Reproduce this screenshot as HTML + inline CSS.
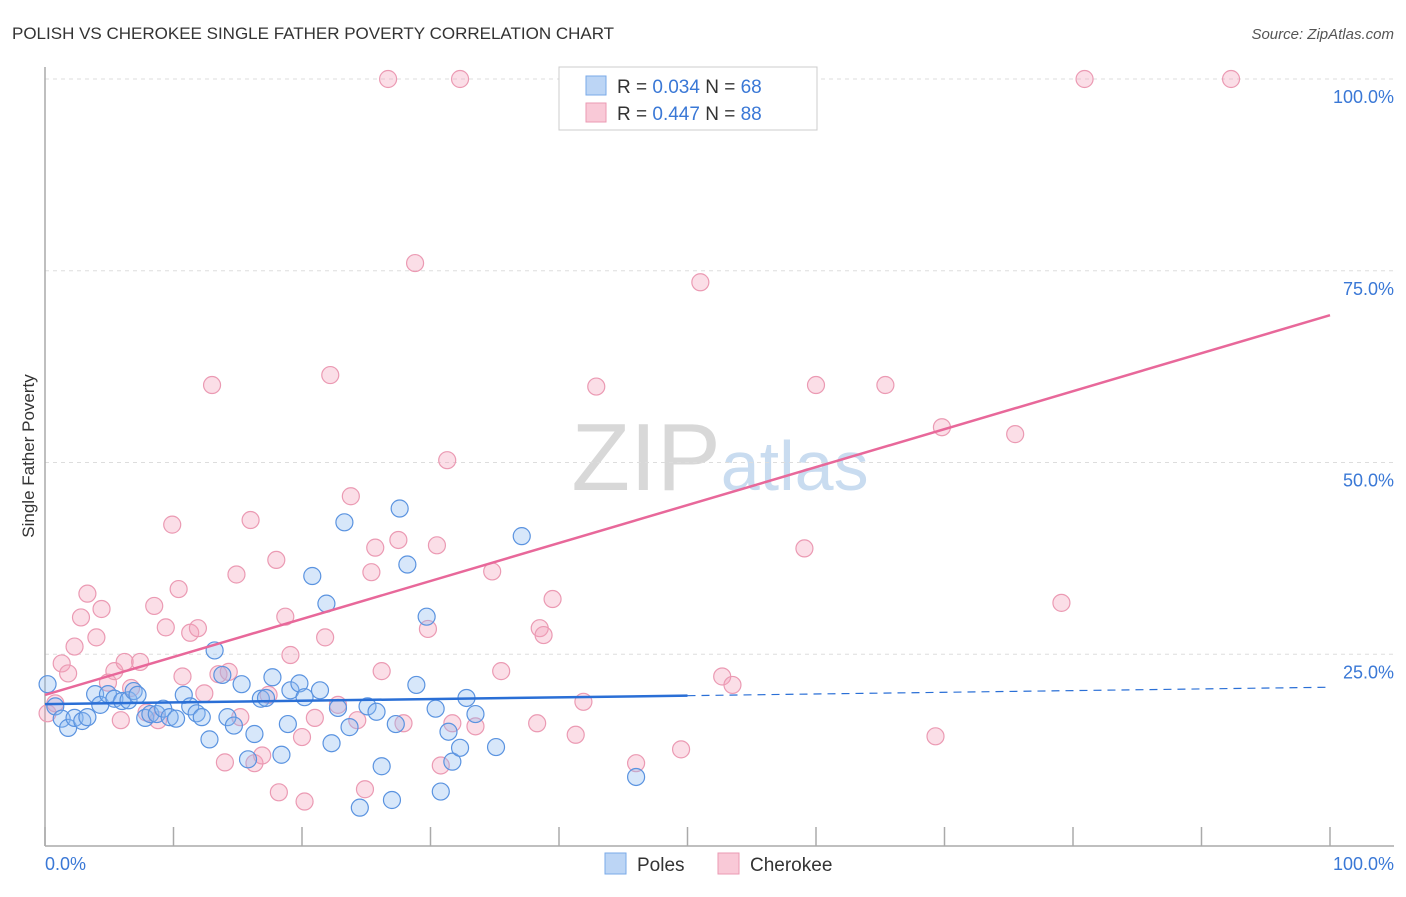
<!DOCTYPE html>
<html><head><meta charset="utf-8"><style>
body{margin:0;background:#fff;font-family:"Liberation Sans",sans-serif}
svg text{font-family:"Liberation Sans",sans-serif}
</style></head><body>
<svg id="c" width="1406" height="892">
<text x="12" y="39" font-size="17" fill="#333">POLISH VS CHEROKEE SINGLE FATHER POVERTY CORRELATION CHART</text>
<text x="1394" y="39" font-size="15" fill="#555" font-style="italic" text-anchor="end">Source: ZipAtlas.com</text>
<text x="34" y="456" font-size="17" fill="#333" text-anchor="middle" transform="rotate(-90 34 456)">Single Father Poverty</text>
<text x="720" y="490" font-size="96" fill="#ddd" text-anchor="middle" font-family="Liberation Serif"><tspan fill="#d8d8d8">ZIP</tspan><tspan fill="#c9dcf0" font-family="Liberation Sans" font-size="70">atlas</tspan></text>
<g id="grid"></g><g id="pts"></g><g id="lines"></g>
<g>
<rect x="559" y="67" width="258" height="63" fill="#fff" stroke="#ccc"/>
<rect x="586" y="76" width="20" height="19" fill="#bcd5f5" stroke="#7aaae8"/>
<rect x="586" y="103" width="20" height="19" fill="#f9c9d7" stroke="#eb9ab3"/>
<text x="617" y="93" font-size="19" fill="#333">R = <tspan fill="#3a78d6">0.034</tspan>   N = <tspan fill="#3a78d6">68</tspan></text>
<text x="617" y="120" font-size="19" fill="#333">R = <tspan fill="#3a78d6">0.447</tspan>   N = <tspan fill="#3a78d6">88</tspan></text>
</g>
<g>
<rect x="605" y="853" width="21" height="21" fill="#bcd5f5" stroke="#7aaae8"/>
<text x="637" y="871" font-size="19" fill="#333">Poles</text>
<rect x="718" y="853" width="21" height="21" fill="#f9c9d7" stroke="#eb9ab3"/>
<text x="750" y="871" font-size="19" fill="#333">Cherokee</text>
</g>
<text x="45" y="870" font-size="18" fill="#3a78d6">0.0%</text>
<text x="1394" y="870" font-size="18" fill="#3a78d6" text-anchor="end">100.0%</text>
</svg>
<script>
const yTicks=[100,75,50,25];
const yTickLabels=["100.0%","75.0%","50.0%","25.0%"];
const polesX=[0.2,0.8,1.3,1.8,2.3,2.9,3.3,3.9,4.3,4.9,5.4,6.0,6.5,6.9,7.2,7.8,8.2,8.7,9.2,9.7,10.2,10.8,11.3,11.8,12.2,12.8,13.2,13.8,14.2,14.7,15.3,15.8,16.3,16.8,17.2,17.7,18.4,18.9,19.1,19.8,20.2,20.8,21.4,21.9,22.3,22.8,23.3,23.7,24.5,25.1,25.8,26.2,27.0,27.3,27.6,28.2,28.9,29.7,30.4,30.8,31.4,31.7,32.3,32.8,33.5,35.1,37.1,46.0];
const polesY=[21.1,18.2,16.6,15.4,16.7,16.3,16.8,19.8,18.4,19.8,19.2,18.9,19.0,20.2,19.7,16.7,17.2,17.2,17.9,16.8,16.6,19.7,18.2,17.3,16.8,13.9,25.5,22.3,16.8,15.7,21.1,11.3,14.6,19.2,19.3,22.0,11.9,15.9,20.3,21.2,19.4,35.2,20.3,31.6,13.4,18.0,42.2,15.5,5.0,18.2,17.5,10.4,6.0,15.9,44.0,36.7,21.0,29.9,17.9,7.1,14.9,11.0,12.8,19.3,17.2,12.9,40.4,9.0];
const cherX=[0.2,0.8,1.3,1.8,2.3,2.8,3.3,4.0,4.4,4.9,5.4,5.9,6.2,6.7,7.4,7.9,8.5,8.8,9.4,9.9,10.4,10.7,11.3,11.9,12.4,13.0,13.5,14.0,14.3,14.9,15.2,16.0,16.3,16.9,17.4,18.0,18.2,18.7,19.1,20.0,20.2,21.0,21.8,22.2,22.8,23.8,24.3,24.9,25.4,25.7,26.2,26.7,27.5,27.9,28.8,29.8,30.5,30.8,31.3,31.7,32.3,33.5,34.8,35.5,38.3,38.5,38.8,39.5,41.3,41.9,42.9,46.0,49.5,51.0,51.9,52.7,53.5,59.1,60.0,65.4,69.3,69.8,75.5,79.1,80.9,92.3];
const cherY=[17.3,18.6,23.8,22.5,26.0,29.8,32.9,27.2,30.9,21.3,22.8,16.4,24.0,20.6,24.0,17.4,31.3,16.4,28.5,41.9,33.5,22.1,27.8,28.4,19.9,60.1,22.4,10.9,22.7,35.4,16.8,42.5,10.8,11.8,19.7,37.3,7.0,29.9,24.9,14.2,5.8,16.7,27.2,61.4,18.4,45.6,16.4,7.4,35.7,38.9,22.8,100,39.9,16.0,76.0,28.3,39.2,10.5,50.3,16.0,100,15.6,35.8,22.8,16.0,28.4,27.5,32.2,14.5,18.8,59.9,10.8,12.6,73.5,100,22.1,21.0,38.8,60.1,60.1,14.3,54.6,53.7,31.7,100,100];
const polesLine=[18.5,20.7], cherLine=[19.7,69.2], polesSolidEnd=50;
const X=v=>45+v*12.85, Y=v=>846-v*7.67;
const NS="http://www.w3.org/2000/svg";
function mk(t,a,p){const e=document.createElementNS(NS,t);for(const k in a)e.setAttribute(k,a[k]);p.appendChild(e);return e;}
const grid=document.getElementById('grid');
yTicks.forEach((t,i)=>{
 const l=mk('line',{x1:45,x2:1394,y1:Y(t),y2:Y(t),stroke:'#ddd','stroke-dasharray':'4,4'},grid);
 
 
 const tx=mk('text',{x:1394,y:Y(t)+24,'font-size':18,fill:'#3a78d6','text-anchor':'end'},grid);
 tx.textContent=yTickLabels[i];
 
 
});
const ax=mk('line',{x1:45,x2:45,y1:67,y2:846,stroke:'#aaa','stroke-width':1.5},grid);


const bx=mk('line',{x1:45,x2:1394,y1:846,y2:846,stroke:'#aaa','stroke-width':1.5},grid);


for(let i=0;i<=10;i++){
 const t=mk('line',{x1:X(i*10),x2:X(i*10),y1:827,y2:846,stroke:'#aaa','stroke-width':1.5},grid);
 
 
}
const pts=document.getElementById('pts');
cherX.forEach((x,i)=>{
 const c=mk('circle',{cx:X(x),cy:Y(cherY[i]),r:8.5,fill:'rgba(244,160,186,0.35)',stroke:'#eb9ab3','stroke-width':1.2},pts);
 
 
});
polesX.forEach((x,i)=>{
 const c=mk('circle',{cx:X(x),cy:Y(polesY[i]),r:8.5,fill:'rgba(140,185,240,0.35)',stroke:'#5a93e0','stroke-width':1.2},pts);
 
 
});
const ln=document.getElementById('lines');
const py=v=>polesLine[0]+(polesLine[1]-polesLine[0])*v/100;
const l1=mk('line',{x1:X(0),y1:Y(py(0)),x2:X(polesSolidEnd),y2:Y(py(polesSolidEnd)),stroke:'#2a6fd6','stroke-width':2.5},ln);


const l2=mk('line',{x1:X(polesSolidEnd),y1:Y(py(polesSolidEnd)),x2:X(100),y2:Y(py(100)),stroke:'#2a6fd6','stroke-width':1.2,'stroke-dasharray':'8,6'},ln);


const l3=mk('line',{x1:X(0),y1:Y(cherLine[0]),x2:X(100),y2:Y(cherLine[1]),stroke:'#e8689a','stroke-width':2.5},ln);


</script>
</body></html>
